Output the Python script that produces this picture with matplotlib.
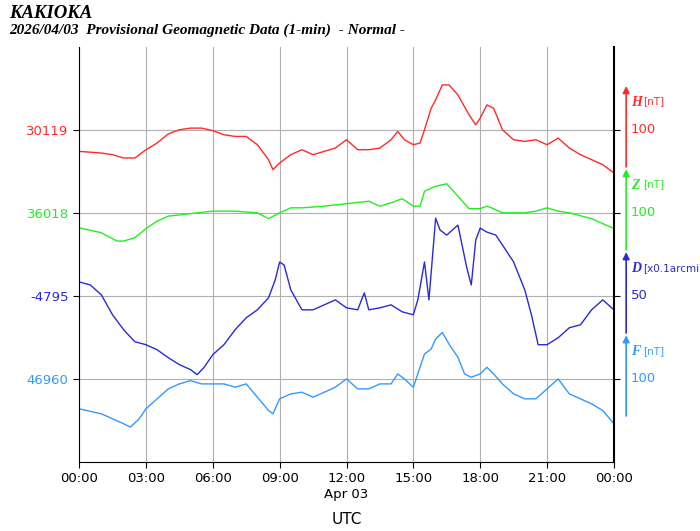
import matplotlib
matplotlib.use("Agg")
import matplotlib.pyplot as plt
import numpy as np

h_t = [0,1,1.5,2,2.5,3,3.5,4,4.5,5,5.5,6,6.5,7,7.5,8,8.5,8.7,9,9.5,10,10.5,11,11.5,12,12.5,13,13.5,14,14.3,14.6,15,15.3,15.5,15.8,16,16.3,16.6,17,17.5,17.8,18,18.3,18.6,19,19.5,20,20.5,21,21.5,22,22.5,23,23.5,24]
h_v = [-26,-28,-30,-34,-34,-24,-16,-5,0,2,2,-1,-6,-8,-8,-18,-36,-48,-40,-30,-24,-30,-26,-22,-12,-24,-24,-22,-12,-2,-12,-18,-16,0,26,36,54,54,42,18,6,14,30,26,0,-12,-14,-12,-18,-10,-22,-30,-36,-42,-52]
z_t = [0,1,1.7,2,2.5,3,3.5,4,5,6,7,8,8.5,9,9.5,10,11,12,13,13.5,14,14.5,15,15.3,15.5,16,16.5,17,17.5,18,18.3,18.6,19,20,20.5,21,21.5,22,23,24]
z_v = [-18,-24,-34,-34,-30,-19,-10,-4,-1,2,2,0,-7,0,6,6,8,11,14,8,12,17,8,8,26,32,35,20,5,5,8,5,0,0,2,6,2,0,-7,-19]
d_t = [0,0.5,1,1.5,2,2.5,3,3.5,4,4.5,5,5.3,5.6,6,6.5,7,7.5,8,8.5,8.8,9,9.2,9.5,10,10.5,11,11.5,12,12.5,12.8,13,13.5,14,14.5,15,15.2,15.5,15.7,16,16.2,16.5,17,17.4,17.6,17.8,18,18.3,18.7,19,19.5,20,20.3,20.6,21,21.5,22,22.5,23,23.5,24]
d_v = [8.4,6.6,0.6,-11.4,-20.4,-27.6,-29.4,-32.4,-37.2,-41.4,-44.4,-47.4,-43.2,-35.4,-29.4,-20.4,-13.2,-8.4,-1.2,9.6,20.4,18.6,3.6,-8.4,-8.4,-5.4,-2.4,-7.2,-8.4,1.8,-8.4,-7.2,-5.4,-9.6,-11.4,-2.4,20.4,-2.4,46.8,39.6,36.6,42.6,16.8,6.6,33.6,40.8,38.4,36.6,30.6,20.4,3.6,-11.4,-29.4,-29.4,-25.2,-19.2,-17.4,-8.4,-2.4,-8.4]
f_t = [0,1,2,2.3,2.7,3,3.5,4,4.5,5,5.5,6,6.5,7,7.5,8,8.5,8.7,9,9.5,10,10.5,11,11.5,12,12.5,13,13.5,14,14.3,14.6,15,15.5,15.8,16,16.3,16.6,17,17.3,17.6,18,18.3,18.6,19,19.5,20,20.5,21,21.5,22,23,23.5,24]
f_v = [-36,-42,-54,-58,-48,-36,-24,-12,-6,-2,-6,-6,-6,-10,-6,-22,-38,-42,-24,-18,-16,-22,-16,-10,0,-12,-12,-6,-6,6,0,-10,30,36,48,56,42,26,6,2,6,14,6,-6,-18,-24,-24,-12,0,-18,-30,-38,-54]

base_labels = ["30119", "36018", "-4795", "46960"]
comp_names = ["H", "Z", "D", "F"]
units = ["[nT]", "[nT]", "[x0.1arcmi", "[nT]"]
scale_labels = ["100", "100", "50", "100"]
scales = [100, 100, 50, 100]
colors = ["#ff2a2a", "#22ee22", "#2a2ad8", "#3399ff"]
rows = [3, 2, 1, 0]
series = [(h_t, h_v), (z_t, z_v), (d_t, d_v), (f_t, f_v)]
xticklabels = ["00:00","03:00","06:00","09:00","12:00","15:00","18:00","21:00","00:00"]

fig = plt.figure(figsize=(7, 5.31), dpi=100)
ax = fig.add_axes([0.113, 0.130, 0.764, 0.782])
for (t, v), r, s, c in zip(series, rows, scales, colors):
    ax.plot(t, r + np.array(v) / s, color=c, lw=1.0)
ax.set_xlim(0, 24)
ax.set_ylim(-1, 4)
ax.set_xticks(range(0, 25, 3))
ax.set_xticklabels(xticklabels, fontsize=9.5)
ax.set_yticks(rows)
ax.set_yticklabels(base_labels, fontsize=9.5)
for lab, c in zip(ax.get_yticklabels(), colors):
    lab.set_color(c)
ax.grid(True, color="#b0b0b0", lw=0.8)
ax.spines["top"].set_visible(False)
ax.spines["right"].set_linewidth(1.5)
ax.tick_params(axis="y", right=True, length=4)
ax.tick_params(axis="x", length=4)
ax.text(12, -1.39, "Apr 03", ha="center", va="center", fontsize=9.5)
ax.text(12, -1.69, "UTC", ha="center", va="center", fontsize=11)
for r, c, n, u, sl in zip(rows, colors, comp_names, units, scale_labels):
    ax.annotate("", xy=(24.55, r + 0.56), xytext=(24.55, r - 0.48), xycoords="data",
                arrowprops=dict(arrowstyle="-|>", color=c, lw=1.2, mutation_scale=10),
                annotation_clip=False)
    ax.text(24.75, r + 0.33, n, color=c, fontsize=10, fontstyle="italic", fontweight="bold",
            family="Liberation Serif", va="center", clip_on=False)
    ax.text(25.3, r + 0.34, u, color=c, fontsize=7.5, va="center", clip_on=False)
    ax.text(24.75, r, sl, color=c, fontsize=9.5, va="center", clip_on=False)
fig.text(0.013, 0.975, "KAKIOKA", fontsize=13.5, fontstyle="italic", fontweight="bold",
         family="Liberation Serif", va="center")
fig.text(0.013, 0.943, "2026/04/03  Provisional Geomagnetic Data (1-min)  - Normal -", fontsize=11,
         fontstyle="italic", fontweight="bold", family="Liberation Serif", va="center")
fig.savefig("out.png", dpi=100)
